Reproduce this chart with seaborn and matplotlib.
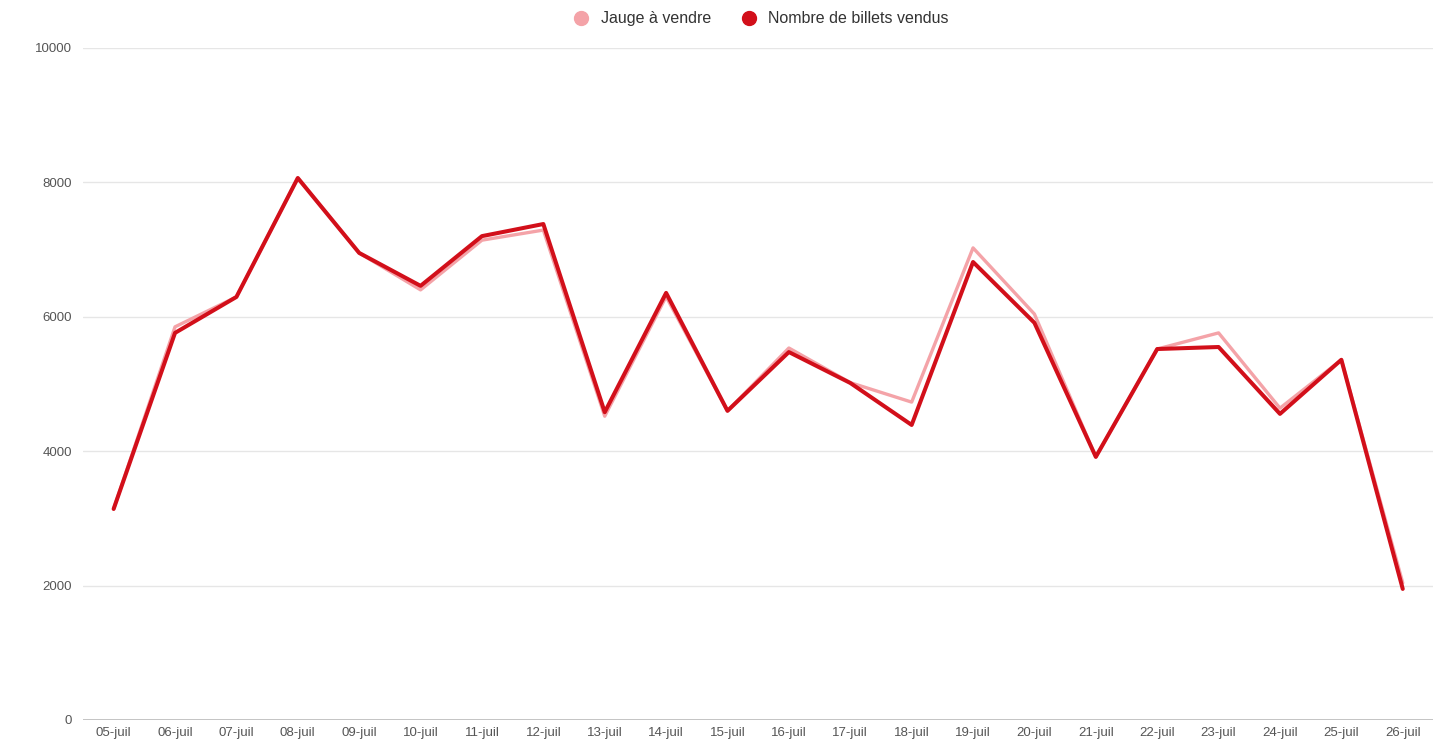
import pandas as pd
import numpy as np
import matplotlib.pyplot as plt
import seaborn as sns
from matplotlib.lines import Line2D

days = ['05-juil', '06-juil', '07-juil', '08-juil', '09-juil', '10-juil', '11-juil',
        '12-juil', '13-juil', '14-juil', '15-juil', '16-juil', '17-juil', '18-juil',
        '19-juil', '20-juil', '21-juil', '22-juil', '23-juil', '24-juil', '25-juil',
        '26-juil']

jauge = [3140, 5850, 6295, 8065, 6950, 6400, 7140, 7290, 4520, 6300, 4600,
         5535, 5020, 4730, 7025, 6040, 3915, 5520, 5760, 4640, 5360, 2040]

vendus = [3140, 5760, 6295, 8065, 6950, 6460, 7200, 7380, 4580, 6355, 4600,
          5475, 5015, 4390, 6815, 5910, 3915, 5520, 5550, 4555, 5360, 1950]

series = ['Jauge à vendre', 'Nombre de billets vendus']
colors = ['#f4a3a8', '#d20f1a']

df = pd.DataFrame({
    'Jour': days * 2,
    'pos': list(range(len(days))) * 2,
    'Valeur': jauge + vendus,
    'Serie': [series[0]] * len(days) + [series[1]] * len(days),
})

sns.set_style('white')
plt.rcParams['font.family'] = ['Liberation Sans', 'DejaVu Sans']

fig = plt.figure(figsize=(14.45, 7.46), dpi=100)
ax = fig.add_axes([0.0574, 0.0349, 0.9346, 0.9008])

# pink first, dark red on top
sns.lineplot(data=df[df['Serie'] == series[0]], x='pos', y='Valeur', color=colors[0],
             lw=2.4, ax=ax, legend=False, solid_capstyle='round', solid_joinstyle='round')
sns.lineplot(data=df[df['Serie'] == series[1]], x='pos', y='Valeur', color=colors[1],
             lw=2.9, ax=ax, legend=False, solid_capstyle='round', solid_joinstyle='round')

ax.set_xlim(-0.5, len(days) - 0.5)
ax.set_ylim(0, 10000)
ax.set_xticks(range(len(days)))
ax.set_xticklabels(days)
ax.set_yticks([0, 2000, 4000, 6000, 8000, 10000])
ax.set_xlabel('')
ax.set_ylabel('')
ax.tick_params(axis='both', length=0, labelsize=9.5, colors='#555555')
ax.tick_params(axis='y', pad=8)
ax.tick_params(axis='x', pad=5)

ax.grid(axis='y', color='#e6e6e6', lw=1)
ax.axhline(0, color='#bbbbbb', lw=1.2)
for s in ax.spines.values():
    s.set_visible(False)

handles = [Line2D([], [], ls='', marker='o', ms=10, color=c) for c in colors]
fig.legend(handles, series, loc='center', bbox_to_anchor=(0.524, 0.975), ncol=2,
           frameon=False, fontsize=11.5, handletextpad=0.2, columnspacing=1.4,
           labelcolor='#333333')

fig.savefig('out.png', dpi=100)
